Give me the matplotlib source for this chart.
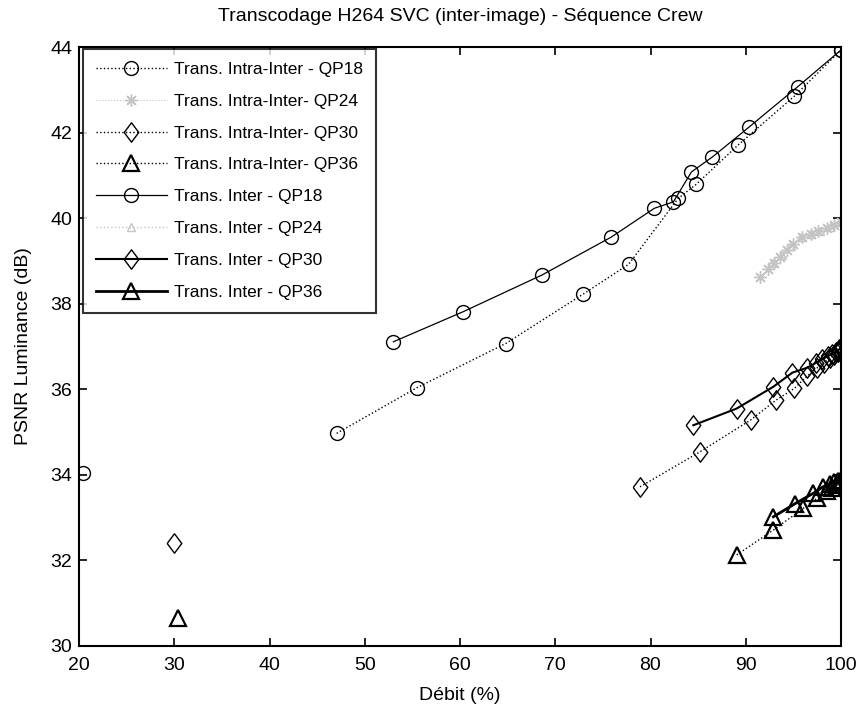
import numpy as np
import matplotlib
matplotlib.use("Agg")
import matplotlib.pyplot as plt

plt.rcParams['font.family'] = ['Liberation Sans', 'DejaVu Sans']

# ---- data ----
intra18_low = ([20.4], [34.05])
intra18_x = [47.05, 55.5, 64.8, 72.9, 77.7, 82.9, 84.8, 89.2, 95.1, 100]
intra18_y = [34.97, 36.04, 37.07, 38.22, 38.92, 40.46, 40.79, 41.71, 42.85, 43.93]

intra24_x = [91.5, 92.3, 93.0, 93.6, 94.3, 95.0, 95.9, 96.8, 97.6, 98.5, 99.3, 100]
intra24_y = [38.62, 38.8, 38.95, 39.1, 39.25, 39.4, 39.55, 39.62, 39.7, 39.76, 39.84, 39.9]

intra30_low = ([30.0], [32.4])
intra30_x = [78.9, 85.2, 90.5, 93.2, 95.1, 96.4, 97.5, 98.2, 98.8, 99.3, 99.7, 100]
intra30_y = [33.72, 34.54, 35.28, 35.75, 36.02, 36.3, 36.5, 36.62, 36.72, 36.8, 36.87, 36.93]

intra36_low = ([30.4], [30.65])
intra36_x = [89.05, 92.9, 96.05, 97.45, 98.5, 99.1, 99.6, 100]
intra36_y = [32.13, 32.71, 33.22, 33.45, 33.62, 33.7, 33.76, 33.8]

inter18_x = [53.0, 60.3, 68.6, 75.9, 80.4, 82.4, 84.3, 86.5, 90.3, 95.45, 100]
inter18_y = [37.11, 37.81, 38.67, 39.56, 40.23, 40.38, 41.08, 41.43, 42.12, 43.07, 43.93]

inter24_x = [92.8, 93.8, 94.8, 95.8, 96.8, 97.8, 98.8, 100]
inter24_y = [38.95, 39.15, 39.35, 39.55, 39.62, 39.7, 39.8, 39.9]

inter30_x = [84.5, 89.05, 92.9, 94.9, 96.4, 97.4, 98.0, 98.6, 99.1, 99.5, 99.8, 100]
inter30_y = [35.16, 35.55, 36.06, 36.39, 36.5, 36.62, 36.7, 36.77, 36.83, 36.88, 36.93, 36.97]

inter36_x = [92.9, 95.2, 97.1, 98.1, 98.8, 99.3, 99.7, 100]
inter36_y = [33.02, 33.33, 33.57, 33.72, 33.78, 33.83, 33.86, 33.88]

labels = ["Trans. Intra-Inter - QP18", "Trans. Intra-Inter- QP24",
          "Trans. Intra-Inter- QP30", "Trans. Intra-Inter- QP36",
          "Trans. Inter - QP18", "Trans. Inter - QP24",
          "Trans. Inter - QP30", "Trans. Inter - QP36"]

fig = plt.figure(figsize=(8.61, 7.08), dpi=100)
ax = fig.add_axes([79/861, 1-646/708, (841-79)/861, (646-47)/708])

gray = '#c4c4c4'
diamond = [(-0.75, 0), (0, 1), (0.75, 0), (0, -1), (-0.75, 0)]
mk = dict(fillstyle='none', markeredgewidth=1.0)
tri = dict(fillstyle='none', markeredgewidth=1.6)
dms = 14

ax.plot(intra18_x, intra18_y, ':', color='k', lw=1, marker='o', ms=10, label=labels[0], **mk)
ax.plot(*intra18_low, ls='none', color='k', marker='o', ms=10, **mk)
ax.plot(intra24_x, intra24_y, ':', color=gray, lw=0.8, marker=(8, 2, 0), ms=9, label=labels[1], **mk)
ax.plot(intra30_x, intra30_y, ':', color='k', lw=1, marker=diamond, ms=dms, label=labels[2], **mk)
ax.plot(*intra30_low, ls='none', color='k', marker=diamond, ms=dms, **mk)
ax.plot(intra36_x, intra36_y, ':', color='k', lw=1, marker='^', ms=11, label=labels[3], **tri)
ax.plot(*intra36_low, ls='none', color='k', marker='^', ms=11, **tri)

ax.plot(inter18_x, inter18_y, '-', color='k', lw=0.9, marker='o', ms=10, label=labels[4], **mk)
ax.plot(inter24_x, inter24_y, ':', color=gray, lw=1, marker='^', ms=6, label=labels[5], **mk)
ax.plot(inter30_x, inter30_y, '-', color='k', lw=1.5, marker=diamond, ms=dms, label=labels[6], **mk)
ax.plot(inter36_x, inter36_y, '-', color='k', lw=2, marker='^', ms=11, label=labels[7], **tri)

ax.set_xlim(20, 100)
ax.set_ylim(30, 44)
ax.set_xticks(np.arange(20, 101, 10))
ax.set_yticks(np.arange(30, 45, 2))
ax.tick_params(direction='in', top=True, right=True, labelsize=14, length=6, width=1.2)
ax.tick_params(axis='x', pad=8)
ax.tick_params(axis='y', pad=5)
for s in ax.spines.values():
    s.set_linewidth(1.5)

ax.set_title("Transcodage H264 SVC (inter-image) - Séquence Crew", fontsize=14, pad=19)
ax.set_xlabel("Débit (%)", fontsize=14, labelpad=9)
ax.set_ylabel("PSNR Luminance (dB)", fontsize=14, labelpad=13)

leg = ax.legend(loc='upper left', bbox_to_anchor=(0.005, 0.997), borderaxespad=0,
                fontsize=12.5, frameon=True, fancybox=False, edgecolor='k',
                handlelength=4.1, handletextpad=0.4, labelspacing=0.96,
                borderpad=0.75)
leg.get_frame().set_linewidth(1.5)

fig.savefig("out.png", dpi=100)
